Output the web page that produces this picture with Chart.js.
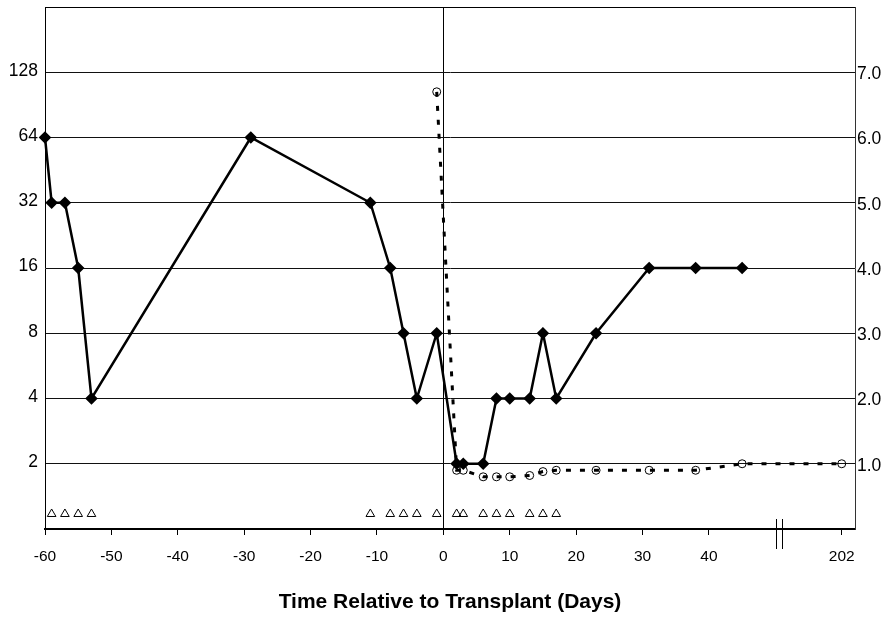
<!DOCTYPE html>
<html>
<head>
<meta charset="utf-8">
<title>Time Relative to Transplant</title>
<script src="https://cdn.jsdelivr.net/npm/chart.js@4.4.1/dist/chart.umd.min.js"></script>
<style>
  html, body { margin: 0; padding: 0; background: #fff; }
  #wrap { width: 887px; height: 618px; }
</style>
</head>
<body>
<div id="wrap"><canvas id="chart" width="887" height="618"></canvas></div>
<script>
// titer (left, log2 axis)
const titerDays = [-60, -59, -57, -55, -53, -29, -11, -8, -6, -4, -1, 2, 3, 6, 8, 10, 13, 15, 17, 23, 31, 38, 45];
const titerValues = [64, 32, 32, 16, 4, 64, 32, 16, 8, 4, 8, 2, 2, 2, 4, 4, 4, 8, 4, 8, 16, 16, 16];

// second measure (right, linear axis)
const ratioDays = [-1, 2, 3, 6, 8, 10, 13, 15, 17, 23, 31, 38, 45, 202];
const ratioValues = [6.7, 0.9, 0.9, 0.8, 0.8, 0.8, 0.82, 0.88, 0.9, 0.9, 0.9, 0.9, 1.0, 1.0];

// treatment days (triangles along the bottom)
const treatmentDays = [-59, -57, -55, -53, -11, -8, -6, -4, -1, 2, 3, 6, 8, 10, 13, 15, 17];
const markerLevel = 0.23;

const xTickDays = [-60, -50, -40, -30, -20, -10, 0, 10, 20, 30, 40, 202];
const leftTicks = [2, 4, 8, 16, 32, 64, 128];
const rightTicks = [1, 2, 3, 4, 5, 6, 7];

// broken x axis: everything from day 202 on sits right after 40
const breakDay = 202;
const breakPos = 60;
function axisPos(d) {
    return d >= breakDay ? breakPos + (d - breakDay) : d;
}

Chart.defaults.font.family = '"Liberation Sans", Arial, Helvetica, sans-serif';
Chart.defaults.color = '#000';

const framePlugin = {
    id: 'frame',
    afterDraw(chart) {
        const { ctx, chartArea: a, scales: { x } } = chart;
        ctx.save();
        ctx.strokeStyle = '#000';
        ctx.lineWidth = 1;
        ctx.beginPath();
        ctx.moveTo(a.left, Math.round(a.top) + 0.5);
        ctx.lineTo(a.right, Math.round(a.top) + 0.5);
        [50.1, 51.0].forEach(p => {
            const px = Math.round(x.getPixelForValue(p)) + 0.5;
            ctx.moveTo(px, a.bottom - 10);
            ctx.lineTo(px, a.bottom + 20);
        });
        ctx.stroke();
        ctx.restore();
    }
};

new Chart(document.getElementById('chart'), {
    type: 'line',
    data: {
        datasets: [
            {
                data: titerDays.map((d, i) => ({ x: axisPos(d), y: titerValues[i] })),
                yAxisID: 'yL',
                borderColor: '#000',
                borderWidth: 2.5,
                pointStyle: 'rectRot',
                pointRadius: 4.5,
                pointBackgroundColor: '#000',
                pointBorderColor: '#000',
                tension: 0,
                clip: false
            },
            {
                data: ratioDays.map((d, i) => ({ x: axisPos(d), y: ratioValues[i] })),
                yAxisID: 'yR',
                borderColor: '#000',
                borderWidth: 3,
                borderDash: [5, 9],
                pointStyle: 'circle',
                pointRadius: 4,
                pointBorderWidth: 1,
                pointBackgroundColor: 'rgba(0,0,0,0)',
                pointBorderColor: '#000',
                tension: 0,
                clip: false
            },
            {
                data: treatmentDays.map(d => ({ x: axisPos(d), y: markerLevel })),
                yAxisID: 'yR',
                showLine: false,
                pointStyle: 'triangle',
                pointRadius: 5,
                pointBorderWidth: 1,
                pointBackgroundColor: 'rgba(0,0,0,0)',
                pointBorderColor: '#000',
                clip: false
            }
        ]
    },
    options: {
        responsive: false,
        animation: false,
        events: [],
        layout: { padding: { top: 6, left: 0, right: 0, bottom: 0 } },
        plugins: { legend: { display: false }, tooltip: { enabled: false } },
        scales: {
            x: {
                type: 'linear',
                min: -60,
                max: 62,
                afterBuildTicks: s => { s.ticks = xTickDays.map(d => ({ value: axisPos(d) })); },
                afterFit: s => { s.height = 89; s.paddingLeft = 0; s.paddingRight = 0; },
                ticks: {
                    autoSkip: false,
                    maxRotation: 0,
                    padding: 12,
                    font: { size: 15.5 },
                    callback: (v, i) => String(xTickDays[i])
                },
                grid: {
                    color: c => (c.tick && c.tick.value === 0) ? '#000' : 'rgba(0,0,0,0)',
                    lineWidth: 1,
                    tickColor: '#000',
                    tickLength: 6,
                    tickWidth: 1
                },
                border: { display: true, color: '#000', width: 2 },
                title: {
                    display: true,
                    text: 'Time Relative to Transplant (Days)',
                    font: { size: 21, weight: 'bold' },
                    padding: { top: 0, bottom: 3 }
                }
            },
            yL: {
                type: 'logarithmic',
                position: 'left',
                min: 1,
                max: 256,
                afterBuildTicks: s => { s.ticks = leftTicks.map(v => ({ value: v })); },
                afterFit: s => { s.width = 45; s.paddingTop = 0; s.paddingBottom = 0; },
                ticks: {
                    autoSkip: false,
                    padding: 7,
                    labelOffset: -1.5,
                    font: { size: 17.5 },
                    callback: v => String(v)
                },
                grid: { color: '#111', lineWidth: 1, drawTicks: false },
                border: { display: true, color: '#000', width: 1 }
            },
            yR: {
                type: 'linear',
                position: 'right',
                min: 0,
                max: 8,
                afterBuildTicks: s => { s.ticks = rightTicks.map(v => ({ value: v })); },
                afterFit: s => { s.width = 32; s.paddingTop = 0; s.paddingBottom = 0; },
                ticks: {
                    autoSkip: false,
                    padding: 2,
                    labelOffset: 2,
                    font: { size: 17.5 },
                    callback: v => v.toFixed(1)
                },
                grid: { drawOnChartArea: false, drawTicks: false },
                border: { display: true, color: '#333', width: 1 }
            }
        }
    },
    plugins: [framePlugin]
});
</script>
</body>
</html>
